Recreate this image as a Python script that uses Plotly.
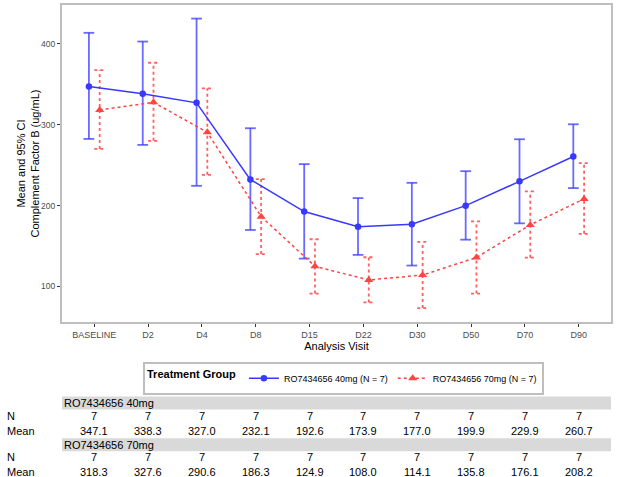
import plotly.graph_objects as go

visits = ["BASELINE", "D2", "D4", "D8", "D15", "D22", "D30", "D50", "D70", "D90"]
group_names = ["RO7434656 40mg", "RO7434656 70mg"]
legend_names = ["RO7434656 40mg (N = 7)", "RO7434656 70mg (N = 7)"]

mean_40 = [347.1, 338.3, 327.0, 232.1, 192.6, 173.9, 177.0, 199.9, 229.9, 260.7]
lo_40 = [282.4, 275.0, 224.4, 169.8, 134.4, 139.0, 125.8, 157.8, 178.0, 221.6]
hi_40 = [413.6, 402.8, 431.2, 295.6, 251.2, 209.2, 228.1, 242.5, 282.0, 300.5]
n_40 = [7, 7, 7, 7, 7, 7, 7, 7, 7, 7]

mean_70 = [318.3, 327.6, 290.6, 186.3, 124.9, 108.0, 114.1, 135.8, 176.1, 208.2]
lo_70 = [270.0, 280.0, 238.0, 140.0, 91.2, 80.2, 73.2, 91.2, 135.6, 165.0]
hi_70 = [367.4, 376.6, 344.9, 232.7, 158.3, 136.1, 155.0, 180.5, 217.5, 252.4]
n_70 = [7, 7, 7, 7, 7, 7, 7, 7, 7, 7]

yticks = [100, 200, 300, 400]

BLUE = "#3838FF"
BLUE_EB = "rgba(56,56,255,0.75)"
RED = "#FF4444"
RED_EB = "rgba(255,68,68,0.85)"

dodge = 0.1
cap = 0.1

fig = go.Figure()


def errbar_xy(xs, lo, hi):
    X, Y = [], []
    for x, l, h in zip(xs, lo, hi):
        X += [x, x, None, x - cap, x + cap, None, x - cap, x + cap, None]
        Y += [l, h, None, l, l, None, h, h, None]
    return X, Y


groups = [
    (mean_40, lo_40, hi_40, -dodge, BLUE, BLUE_EB, "solid", "circle", 6.5, legend_names[0]),
    (mean_70, lo_70, hi_70, dodge, RED, RED_EB, "dot", "triangle-up", 8, legend_names[1]),
]

for mean, lo, hi, off, col, ebcol, dash, sym, msize, name in groups:
    xs = [i + off for i in range(len(visits))]
    ex, ey = errbar_xy(xs, lo, hi)
    fig.add_trace(go.Scatter(x=ex, y=ey, mode="lines", showlegend=False,
                             line=dict(color=ebcol, width=1.8, dash=dash),
                             hoverinfo="skip"))
for mean, lo, hi, off, col, ebcol, dash, sym, msize, name in groups:
    xs = [i + off for i in range(len(visits))]
    fig.add_trace(go.Scatter(x=xs, y=mean, mode="lines+markers", name=name,
                             line=dict(color=col, width=1.5, dash=dash),
                             marker=dict(color=col, size=msize, symbol=sym)))

# pixel helpers for layout (plot area: top 3px, bottom 322px; left 62, right 611)
TOP, BOT = 3, 322
LEFT, RIGHT = 62, 611
def py(p):
    return (BOT - p) / (BOT - TOP)
def px(p):
    return (p - LEFT) / (RIGHT - LEFT)

shapes = []
annotations = []
font_tbl = dict(family="Liberation Sans, Arial", size=11, color="black")

table_rows = [
    (group_names[0], n_40, mean_40, 397, 410, 417, 432),
    (group_names[1], n_70, mean_70, 439, 452, 458, 473),
]
for gname, ns, means, b0, b1, yn, ym in table_rows:
    shapes.append(dict(type="rect", xref="x domain", yref="paper",
                       x0=0, x1=1, y0=py(b1), y1=py(b0),
                       fillcolor="#D9D9D9", line=dict(width=0), layer="below"))
    annotations.append(dict(xref="x domain", yref="paper", x=0, y=py((b0 + b1) / 2),
                            text=gname, showarrow=False, xanchor="left",
                            yanchor="middle", font=font_tbl))
    annotations.append(dict(xref="paper", yref="paper", x=px(5), y=py(yn),
                            text="N", showarrow=False, xanchor="left",
                            yanchor="middle", font=font_tbl))
    annotations.append(dict(xref="paper", yref="paper", x=px(5), y=py(ym),
                            text="Mean", showarrow=False, xanchor="left",
                            yanchor="middle", font=font_tbl))
    for i, (n, m) in enumerate(zip(ns, means)):
        annotations.append(dict(xref="x", yref="paper", x=i, y=py(yn),
                                text=str(n), showarrow=False, xanchor="center",
                                yanchor="middle", font=font_tbl))
        annotations.append(dict(xref="x", yref="paper", x=i, y=py(ym),
                                text=f"{m:.1f}", showarrow=False, xanchor="center",
                                yanchor="middle", font=font_tbl))

# y axis title as rotated annotation
annotations.append(dict(xref="paper", yref="paper", x=px(27), y=0.5,
                        text="Mean and 95% CI<br>Complement Factor B (ug/mL)",
                        textangle=-90, showarrow=False, xanchor="center",
                        yanchor="middle", font=dict(size=11, color="black",
                                                    family="Liberation Sans, Arial")))

fig.update_layout(
    width=620, height=477,
    margin=dict(l=LEFT, r=620 - RIGHT, t=TOP, b=477 - BOT),
    paper_bgcolor="white", plot_bgcolor="white",
    font=dict(family="Liberation Sans, Arial", color="black"),
    shapes=shapes, annotations=annotations,
    legend=dict(orientation="h", x=px(143), y=py(362), xanchor="left",
                yanchor="top", bordercolor="#BEBEBE", borderwidth=2,
                bgcolor="white",
                title=dict(text="<b>Treatment Group</b>", side="left",
                           font=dict(size=11, color="black")),
                font=dict(size=9, color="black"), itemwidth=30),
)
fig.update_xaxes(range=[-0.6, 9.6], tickmode="array", tickvals=list(range(len(visits))),
                 ticktext=visits, ticks="outside", ticklen=3, tickcolor="#333333",
                 tickfont=dict(size=9, color="#4D4D4D"), showgrid=False, zeroline=False,
                 showline=True, mirror=True, linecolor="#BEBEBE", linewidth=2,
                 title=dict(text="Analysis Visit", font=dict(size=11), standoff=1))
fig.update_yaxes(range=[56, 448], tickvals=yticks, ticks="outside", ticklen=3,
                 tickcolor="#333333", tickfont=dict(size=8.5, color="#4D4D4D"),
                 showgrid=False, zeroline=False, showline=True, mirror=True,
                 linecolor="#BEBEBE", linewidth=2)

fig.write_html("out.html")
